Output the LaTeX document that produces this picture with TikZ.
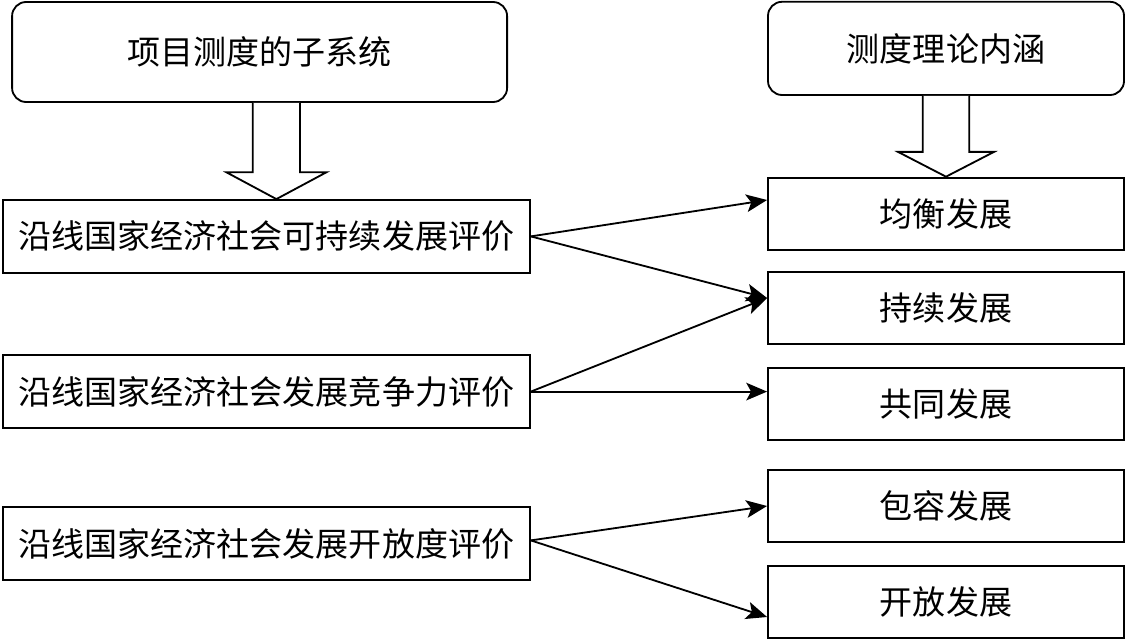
\documentclass[tikz,border=0pt]{standalone}
\usepackage{fontspec}
\setmainfont{Noto Sans CJK SC}
\usetikzlibrary{calc,arrows.meta,positioning}
\tikzset{
  headbox/.style={draw, rectangle, rounded corners=10pt, line width=1.3pt, align=center, inner sep=0pt},
  itembox/.style={draw, rectangle, line width=1.3pt, align=center, inner sep=0pt, minimum height=1.82cm},
  fat/.style={draw, line width=1.3pt, fill=white, line join=miter},
  arrow/.style={-{Stealth[length=0.52cm,width=0.44cm,inset=0.12cm]}, line width=1.3pt}
}
\begin{document}
\fontsize{23.5}{28}\selectfont
\begin{tikzpicture}
  \useasboundingbox (0,0) rectangle (28.125,-16.025);
  % headings
  \node [headbox, minimum width=12.375cm, minimum height=2.5cm] (sub) at (6.49,-1.3) {项目测度的子系统};
  \node [headbox, minimum width=8.9cm, minimum height=2.33cm] (theory) at (23.65,-1.21) {测度理论内涵};
  % subsystems
  \node [itembox, minimum width=13.175cm] (sust) at (6.66,-5.91) {沿线国家经济社会可持续发展评价};
  \node [itembox, minimum width=13.175cm] (comp) at (6.66,-9.79) {沿线国家经济社会发展竞争力评价};
  \node [itembox, minimum width=13.175cm] (open) at (6.66,-13.59) {沿线国家经济社会发展开放度评价};
  % connotations
  \node [itembox, minimum width=8.9cm] (balance) at (23.65,-5.35) {均衡发展};
  \node [itembox, minimum width=8.9cm] (lasting) at (23.65,-7.7) {持续发展};
  \node [itembox, minimum width=8.9cm] (common) at (23.65,-10.1) {共同发展};
  \node [itembox, minimum width=8.9cm] (incl) at (23.65,-12.65) {包容发展};
  \node [itembox, minimum width=8.9cm] (openn) at (23.65,-15.05) {开放发展};
  % block arrows
  \draw [fat] let \p1=(sub.south), \p2=(sust.north) in
    (6.91cm-0.59cm,\y1) -- (6.91cm-0.59cm,\y2+0.67cm) -- (6.91cm-1.25cm,\y2+0.67cm) -- (6.91cm,\y2)
    -- (6.91cm+1.25cm,\y2+0.67cm) -- (6.91cm+0.59cm,\y2+0.67cm) -- (6.91cm+0.59cm,\y1);
  \draw [fat] let \p1=(theory.south), \p2=(balance.north) in
    (\x2-0.58cm,\y1) -- (\x2-0.58cm,\y2+0.62cm) -- (\x2-1.2cm,\y2+0.62cm) -- (\x2,\y2)
    -- (\x2+1.2cm,\y2+0.62cm) -- (\x2+0.58cm,\y2+0.62cm) -- (\x2+0.58cm,\y1);
  % links
  \draw [arrow] (sust.east) -- ([yshift=0.35cm]balance.west);
  \draw [arrow] (sust.east) -- ([yshift=0.25cm]lasting.west);
  \draw [arrow] (comp.east) -- ([yshift=0.25cm]lasting.west);
  \draw [arrow] (comp.east) -- (comp.east -| common.west);
  \draw [arrow] ([yshift=0.08cm]open.east) -- (incl.west);
  \draw [arrow] ([yshift=0.08cm]open.east) -- ([yshift=-0.375cm]openn.west);
\end{tikzpicture}
\end{document}
